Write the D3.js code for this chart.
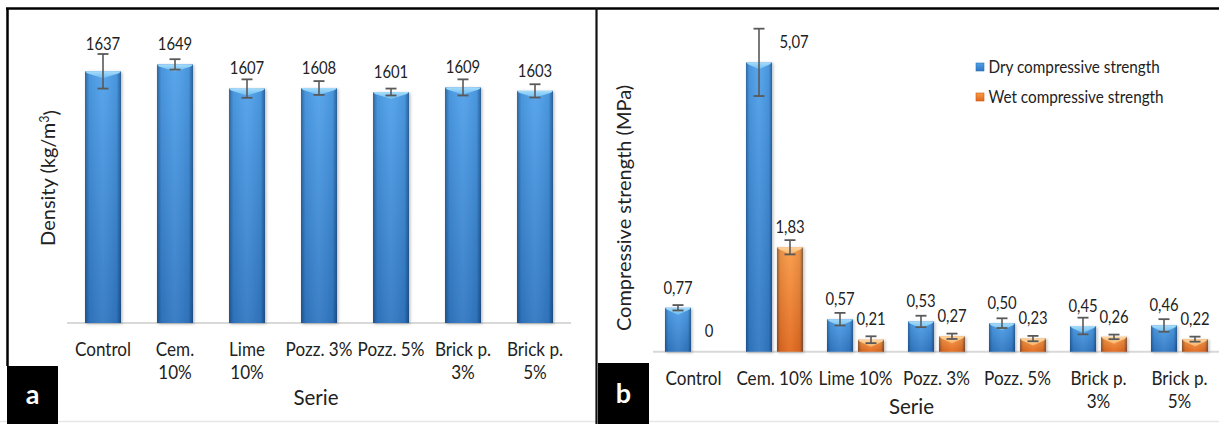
<!DOCTYPE html>
<html>
<head>
<meta charset="utf-8">
<script src="https://cdn.jsdelivr.net/npm/d3@7"></script>
<style>
  html, body { margin: 0; padding: 0; background: #fff; }
  svg { display: block; }
  text { font-family: Lato, "Open Sans", "Liberation Sans", sans-serif; fill: #222; }
</style>
</head>
<body>
<svg id="chart" width="1219" height="424"></svg>
<script>
// ---------- data ----------
const categories = ["Control", "Cem. 10%", "Lime 10%", "Pozz. 3%", "Pozz. 5%", "Brick p. 3%", "Brick p. 5%"];
const densityTickLabels = ["Control", "Cem.\n10%", "Lime\n10%", "Pozz. 3%", "Pozz. 5%", "Brick p.\n3%", "Brick p.\n5%"];
const strengthTickLabels = ["Control", "Cem. 10%", "Lime 10%", "Pozz. 3%", "Pozz. 5%", "Brick p.\n3%", "Brick p.\n5%"];
const density = [1637, 1649, 1607, 1608, 1601, 1609, 1603];
const densityErr = [30, 9, 16, 12, 6, 14, 11.5];
const dryStrength = [0.77, 5.07, 0.57, 0.53, 0.50, 0.45, 0.46];
const dryErr = [0.047, 0.59, 0.11, 0.10, 0.085, 0.146, 0.11];
const wetStrength = [0, 1.83, 0.21, 0.27, 0.23, 0.26, 0.22];
const wetErr = [null, 0.125, 0.06, 0.047, 0.047, 0.04, 0.044];
const seriesNames = ["Dry compressive strength", "Wet compressive strength"];
const seriesKeys = ["dry", "wet"];
const densityDomain = [1200, 1700];
const strengthDomain = [0, 6];
const panelLetters = ["a", "b"];
const axisTitleA = "Density (kg/m";
const axisTitleB = "Compressive strength (MPa)";
const xTitle = "Serie";

// ---------- setup ----------
const SX = 0.9; // horizontal squeeze of text
const svg = d3.select("#chart");
const defs = svg.append("defs");

function grad(id, stops, x2, y2) {
  const g = defs.append("linearGradient").attr("id", id)
    .attr("x1", 0).attr("y1", 0).attr("x2", x2).attr("y2", y2);
  stops.forEach(s => g.append("stop").attr("offset", s[0]).attr("stop-color", s[1]).attr("stop-opacity", s[2] == null ? 1 : s[2]));
}
grad("blueV", [[0, "#4fa0ea"], [1, "#3077c2"]], 0, 1);
grad("orangeV", [[0, "#fa9a45"], [1, "#e2681c"]], 0, 1);
grad("edgeH", [[0, "#0a2040", 0.45], [0.12, "#0a2040", 0.08], [0.5, "#ffffff", 0.06], [0.88, "#0a2040", 0.08], [1, "#0a2040", 0.5]], 1, 0);
grad("blueTop", [[0, "#a6dcfb"], [1, "#6cbcf2"]], 0, 1);
grad("orangeTop", [[0, "#fdd4a0"], [1, "#fbb46a"]], 0, 1);
const f = defs.append("filter").attr("id", "shadow").attr("x", "-30%").attr("y", "-10%").attr("width", "160%").attr("height", "130%");
f.append("feDropShadow").attr("dx", 1.2).attr("dy", 1).attr("stdDeviation", 1.6).attr("flood-color", "#000").attr("flood-opacity", 0.28);

function putText(g, str, x, y, size, opts = {}) {
  const rot = opts.rotate ? " rotate(-90)" : "";
  const t = g.append("text")
    .attr("transform", `translate(${x},${y})${rot} scale(${opts.sx == null ? SX : opts.sx},1)`)
    .attr("text-anchor", opts.anchor || "middle")
    .attr("dy", "0.35em")
    .style("font-size", size + "px");
  if (opts.weight) t.style("font-weight", opts.weight);
  if (opts.fill) t.style("fill", opts.fill);
  t.text(str);
  return t;
}

function drawBar(g, x, w, yTop, yBase, kind) {
  const h = Math.max(0, yBase - yTop);
  if (h <= 0) return;
  const bg = g.append("g").attr("filter", "url(#shadow)");
  bg.append("rect").attr("x", x).attr("y", yTop).attr("width", w).attr("height", h)
    .attr("fill", kind === "wet" ? "url(#orangeV)" : "url(#blueV)");
  bg.append("rect").attr("x", x).attr("y", yTop).attr("width", w).attr("height", h)
    .attr("fill", "url(#edgeH)");
  const bh = Math.min(7, h);
  const pts = [[x, yTop], [x + w, yTop], [x + w - 2, yTop + Math.min(2, bh)], [x + w / 2, yTop + bh], [x + 2, yTop + Math.min(2, bh)]];
  bg.append("polygon").attr("points", pts.map(p => p.join(",")).join(" "))
    .attr("fill", kind === "wet" ? "url(#orangeTop)" : "url(#blueTop)");
}

function drawErr(g, cx, yHi, yLo) {
  const cap = 5.5;
  g.append("line").attr("x1", cx).attr("x2", cx).attr("y1", yHi).attr("y2", yLo).attr("stroke", "#595959").attr("stroke-width", 1.6);
  g.append("line").attr("x1", cx - cap).attr("x2", cx + cap).attr("y1", yHi).attr("y2", yHi).attr("stroke", "#595959").attr("stroke-width", 1.8);
  g.append("line").attr("x1", cx - cap).attr("x2", cx + cap).attr("y1", yLo).attr("y2", yLo).attr("stroke", "#595959").attr("stroke-width", 1.8);
}

function tickLabels(g, scale, labels, y0, lineH, size) {
  labels.forEach((lab, i) => {
    const cx = scale(categories[i]) + scale.bandwidth() / 2;
    lab.split("\n").forEach((line, k) => putText(g, line, cx, y0 + k * lineH, size));
  });
}

// ---------- panel A : density ----------
const gA = svg.append("g");
const xA = d3.scaleBand().domain(categories).range([67, 571]).paddingInner(0.5).paddingOuter(0.25);
const yA = d3.scaleLinear().domain(densityDomain).range([323, 35]);

gA.append("line").attr("x1", 67).attr("x2", 571).attr("y1", yA(densityDomain[0])).attr("y2", yA(densityDomain[0]))
  .attr("stroke", "#d9d9d9").attr("stroke-width", 2);

categories.forEach((c, i) => {
  const x = xA(c), w = xA.bandwidth(), cx = x + w / 2;
  drawBar(gA, x, w, yA(density[i]), yA(densityDomain[0]), "dry");
  const hi = yA(density[i] + densityErr[i]), lo = yA(density[i] - densityErr[i]);
  drawErr(gA, cx, hi, lo);
  let ly = yA(density[i]) - 20;
  if (hi < ly + 7) ly = hi - 10;
  putText(gA, d3.format("d")(density[i]), cx, ly, 16.5);
});
tickLabels(gA, xA, densityTickLabels, 349, 23, 19);
putText(gA, xTitle, 316, 397.5, 20.5, { sx: 1 });
const tA = gA.append("text")
  .attr("transform", "translate(48,178) rotate(-90)")
  .attr("text-anchor", "middle").attr("dy", "0.35em").style("font-size", "20px");
tA.append("tspan").text(axisTitleA);
tA.append("tspan").text("3").attr("dy", "-0.45em").style("font-size", "12.5px");
tA.append("tspan").text(")").attr("dy", "0.45em");

// ---------- panel B : compressive strength ----------
const gB = svg.append("g");
const xB = d3.scaleBand().domain(categories).range([653, 1220]).paddingInner(0.296).paddingOuter(0.148);
const xBi = d3.scaleBand().domain(seriesKeys).range([0, xB.bandwidth()]).paddingInner(0.16);
const yB = d3.scaleLinear().domain(strengthDomain).range([351.7, 351.7 - 6 * 57.07]);

gB.append("line").attr("x1", 653).attr("x2", 1220).attr("y1", yB(0)).attr("y2", yB(0))
  .attr("stroke", "#d9d9d9").attr("stroke-width", 2);

const fmtB = v => v === 0 ? "0" : v.toFixed(2).replace(".", ",");
categories.forEach((c, i) => {
  const series = [[dryStrength[i], dryErr[i]], [wetStrength[i], wetErr[i]]];
  series.forEach(([v, e], s) => {
    const key = seriesKeys[s];
    const x = xB(c) + xBi(key), w = xBi.bandwidth(), cx = x + w / 2;
    drawBar(gB, x, w, yB(v), yB(0), key);
    let hi = null;
    if (e != null) {
      hi = yB(v + e);
      drawErr(gB, cx, hi, yB(v - e));
    }
    const ly = yB(v) - 20;
    let lx = cx;
    if (hi != null && hi < ly + 7) lx = cx + w / 2 + 22;
    putText(gB, fmtB(v), lx, ly, 16.5);
  });
});
tickLabels(gB, xB, strengthTickLabels, 378.3, 23.4, 19);
putText(gB, xTitle, 911.5, 406.7, 20.5, { sx: 1 });
gB.append("text")
  .attr("transform", "translate(624,208) rotate(-90)")
  .attr("text-anchor", "middle").attr("dy", "0.35em").style("font-size", "20px")
  .text(axisTitleB);

// legend
seriesNames.forEach((name, s) => {
  const y = 67 + s * 30;
  gB.append("rect").attr("x", 976).attr("y", y - 4).attr("width", 8).attr("height", 8)
    .attr("fill", s === 0 ? "url(#blueV)" : "url(#orangeV)").attr("stroke", s === 0 ? "#2f6fb4" : "#c75a16").attr("stroke-width", 0.6);
  putText(gB, name, 988.5, y, 17, { anchor: "start" });
});

// ---------- frames ----------
const fr = svg.append("g");
fr.append("line").attr("x1", 0).attr("x2", 1219).attr("y1", 421.5).attr("y2", 421.5).attr("stroke", "#e6e6e6").attr("stroke-width", 1.5);
fr.append("line").attr("x1", 6).attr("x2", 1219).attr("y1", 8.5).attr("y2", 8.5).attr("stroke", "#000").attr("stroke-width", 2.5);
fr.append("line").attr("x1", 7.5).attr("x2", 7.5).attr("y1", 8).attr("y2", 366).attr("stroke", "#000").attr("stroke-width", 2.5);
fr.append("line").attr("x1", 596.5).attr("x2", 596.5).attr("y1", 8).attr("y2", 424).attr("stroke", "#111").attr("stroke-width", 2.2);
const boxes = [[7, 366, 51], [598, 363, 51]];
boxes.forEach((b, k) => {
  fr.append("rect").attr("x", b[0]).attr("y", b[1]).attr("width", b[2]).attr("height", 424 - b[1]).attr("fill", "#000");
  putText(fr, panelLetters[k], b[0] + b[2] / 2, b[1] + (424 - b[1]) / 2, 27, { sx: 1, weight: 700, fill: "#fff" });
});
</script>
</body>
</html>
